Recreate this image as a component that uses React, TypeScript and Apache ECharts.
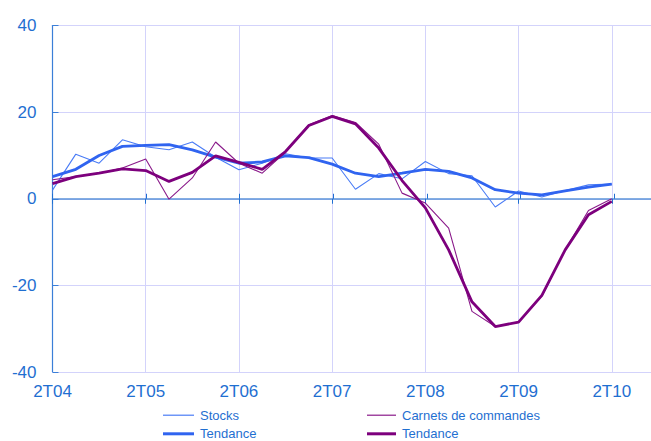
import React, { useEffect, useRef } from "react";
import * as echarts from "echarts";

const quarters = [
  "2T04", "3T04", "4T04", "1T05", "2T05", "3T05", "4T05", "1T06", "2T06",
  "3T06", "4T06", "1T07", "2T07", "3T07", "4T07", "1T08", "2T08", "3T08",
  "4T08", "1T09", "2T09", "3T09", "4T09", "1T10", "2T10",
];
const tickLabels = ["2T04", "2T05", "2T06", "2T07", "2T08", "2T09", "2T10"];
const yTicks = [-40, -20, 0, 20, 40];

const stocks = [
  2.0, 10.3, 8.2, 13.6, 12.0, 11.3, 13.1, 9.6, 6.7, 8.2, 10.4, 9.4, 9.4,
  2.2, 5.8, 4.6, 8.6, 5.8, 5.3, -1.9, 1.8, 0.4, 1.9, 3.2, 3.4,
];
const stocksTrend = [
  5.1, 6.8, 10.0, 12.1, 12.3, 12.5, 11.3, 9.6, 8.2, 8.5, 9.9, 9.5, 8.0,
  5.9, 5.1, 5.9, 6.8, 6.3, 4.8, 2.1, 1.3, 0.9, 1.8, 2.7, 3.4,
];
const orders = [
  4.4, 5.1, 5.9, 7.1, 9.2, -0.1, 4.8, 13.1, 8.2, 5.9, 10.8, 17.1, 19.2,
  17.6, 12.6, 1.3, -1.0, -6.8, -26.0, -29.5, -28.5, -22.5, -11.8, -2.7, 0.0,
];
const ordersTrend = [
  3.5, 5.1, 5.9, 6.9, 6.5, 4.0, 6.1, 9.9, 8.4, 6.8, 10.9, 16.9, 19.0,
  17.3, 11.7, 4.2, -2.1, -11.8, -23.8, -29.5, -28.5, -22.3, -11.8, -3.7, -0.6,
];

const BLUE_TEXT = "#1f6fd1";
const GRID_COLOR = "#d3d3fb";
const AXIS_BLUE = "#3b7fd8";
const FONT = "Arial, 'Liberation Sans', sans-serif";

const C_STOCKS = "#4a7cf6";
const C_STOCKS_T = "#3064f0";
const C_ORDERS = "#8a1a8a";
const C_ORDERS_T = "#7d007d";

const toPoints = (arr: number[]) => arr.map((v, i) => [i, v]);

// The plot area runs past the right edge of the 651px picture; the chart is
// drawn wider and the page clips it.
const CHART_W = 708;
const CHART_H = 441;

export default function App() {
  const ref = useRef<HTMLDivElement>(null);

  useEffect(() => {
    document.body.style.margin = "0";
    document.body.style.overflow = "hidden";
    document.documentElement.style.overflow = "hidden";
    if (!ref.current) return;
    const chart = echarts.init(ref.current, null, { renderer: "svg" });
    const gridPos = { left: 52.5, right: 0.3, top: 25.5, bottom: 69 };
    const xMax = 28;
    const legendItem = (
      name: string,
      left: number,
      top: number,
      color: string,
      h: number,
      w: number,
      label?: string
    ) => ({
      left,
      top,
      orient: "vertical",
      padding: 0,
      itemWidth: w,
      itemHeight: h,
      icon: "rect",
      data: [{ name, icon: "rect", itemStyle: { color, borderWidth: 0 } }],
      formatter: () => label ?? name,
      textStyle: { color: BLUE_TEXT, fontSize: 13, fontFamily: FONT, padding: [0, 0, 0, 1] },
      selectedMode: false,
    });
    chart.setOption({
      animation: false,
      backgroundColor: "#ffffff",
      grid: [
        { ...gridPos, containLabel: false },
        { ...gridPos, containLabel: false },
      ],
      xAxis: [
        {
          type: "value",
          gridIndex: 0,
          min: 0,
          max: xMax,
          interval: 4,
          position: "bottom",
          axisLine: { onZero: false, show: true, lineStyle: { color: GRID_COLOR, width: 1 } },
          axisTick: { show: false },
          splitLine: { show: true, lineStyle: { color: GRID_COLOR, width: 1 } },
          axisLabel: {
            color: BLUE_TEXT,
            fontSize: 17,
            fontFamily: FONT,
            margin: 11,
            formatter: (v: number) =>
              v % 4 === 0 && v / 4 < tickLabels.length ? tickLabels[v / 4] : "",
          },
        },
        {
          type: "value",
          gridIndex: 0,
          min: 0,
          max: xMax,
          interval: 4,
          position: "bottom",
          axisLine: { onZero: true, show: true, lineStyle: { color: "#5b93da", width: 1.6 } },
          axisTick: { show: true, inside: false, length: 5, lineStyle: { color: "#1f6fd1", width: 1 } },
          splitLine: { show: false },
          axisLabel: { show: false },
        },
        {
          type: "value",
          gridIndex: 1,
          min: 0,
          max: xMax,
          interval: 4,
          position: "bottom",
          axisLine: { onZero: true, show: false },
          axisTick: { show: true, inside: true, length: 5, lineStyle: { color: "#1f6fd1", width: 1 } },
          splitLine: { show: false },
          axisLabel: { show: false },
        },
      ],
      yAxis: [
        {
          type: "value",
          gridIndex: 0,
          min: yTicks[0],
          max: yTicks[yTicks.length - 1],
          interval: 20,
          axisLine: { show: true, lineStyle: { color: AXIS_BLUE, width: 1.2 } },
          axisTick: { show: true, inside: true, length: 6, lineStyle: { color: AXIS_BLUE, width: 1 } },
          splitLine: { show: true, lineStyle: { color: GRID_COLOR, width: 1 } },
          axisLabel: {
            color: BLUE_TEXT,
            fontSize: 17,
            fontFamily: FONT,
            margin: 16,
          },
        },
        {
          type: "value",
          gridIndex: 1,
          min: yTicks[0],
          max: yTicks[yTicks.length - 1],
          interval: 20,
          show: false,
        },
      ],
      legend: [
        legendItem("Stocks", 163, 408.7, C_STOCKS, 1.2, 31),
        legendItem("Tendance", 163, 427.3, C_STOCKS_T, 3, 31),
        legendItem("Carnets de commandes", 367, 408.7, C_ORDERS, 1.2, 29),
        legendItem("Tendance (carnets)", 367, 427.3, C_ORDERS_T, 3, 29, "Tendance"),
      ],
      series: [
        {
          name: "Stocks",
          type: "line",
          xAxisIndex: 0,
          yAxisIndex: 0,
          data: toPoints(stocks),
          symbol: "none",
          lineStyle: { color: C_STOCKS, width: 1.1 },
          itemStyle: { color: C_STOCKS },
        },
        {
          name: "Tendance",
          type: "line",
          xAxisIndex: 0,
          yAxisIndex: 0,
          data: toPoints(stocksTrend),
          symbol: "none",
          lineStyle: { color: C_STOCKS_T, width: 2.8 },
          itemStyle: { color: C_STOCKS_T },
        },
        {
          name: "Carnets de commandes",
          type: "line",
          xAxisIndex: 0,
          yAxisIndex: 0,
          data: toPoints(orders),
          symbol: "none",
          lineStyle: { color: C_ORDERS, width: 1.1 },
          itemStyle: { color: C_ORDERS },
        },
        {
          name: "Tendance (carnets)",
          type: "line",
          xAxisIndex: 0,
          yAxisIndex: 0,
          data: toPoints(ordersTrend),
          symbol: "none",
          lineStyle: { color: C_ORDERS_T, width: 2.8 },
          itemStyle: { color: C_ORDERS_T },
        },
      ],
    });
    return () => chart.dispose();
  }, []);

  return <div ref={ref} style={{ width: CHART_W, height: CHART_H }} />;
}
